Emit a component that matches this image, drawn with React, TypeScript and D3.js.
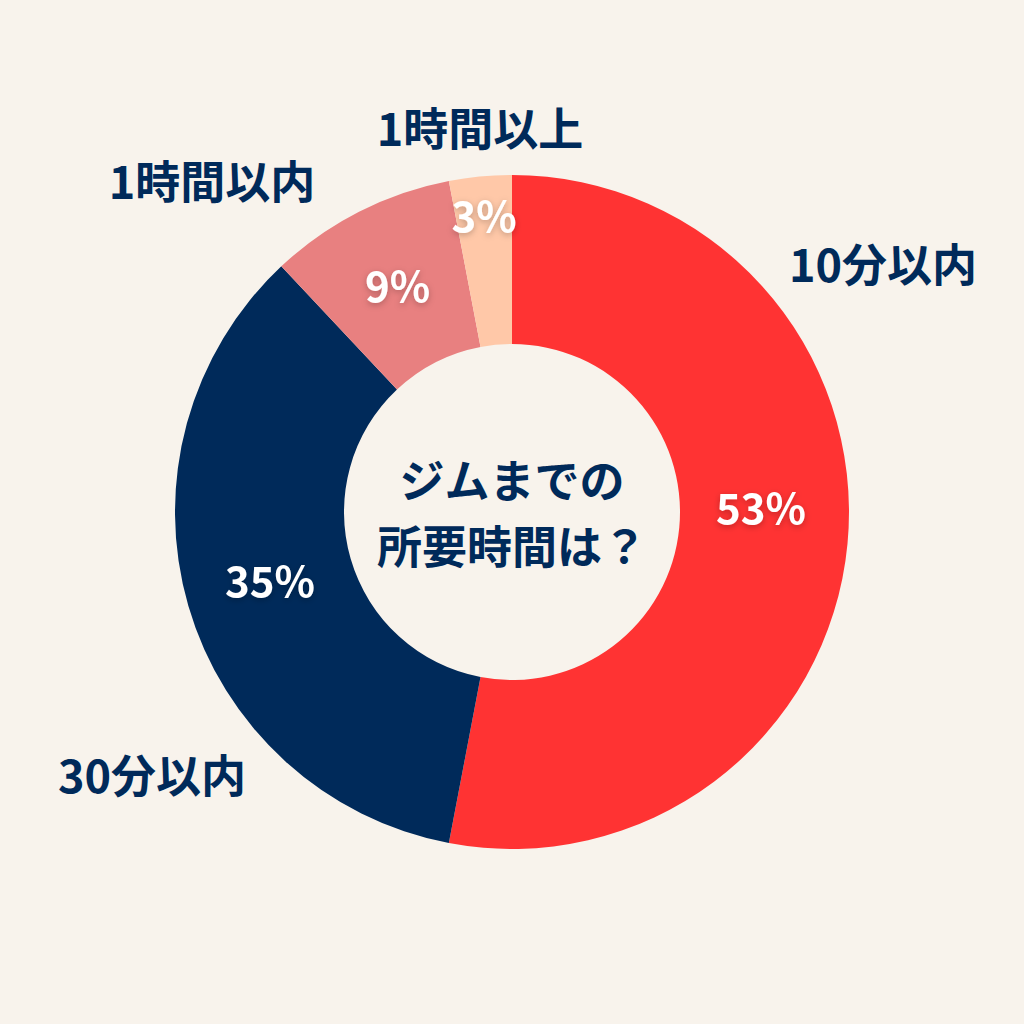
import * as d3 from "d3";

const categories = ["10分以内", "30分以内", "1時間以内", "1時間以上"];
const values = [53, 35, 9, 3];
const colors = ["#FF3333", "#002A5A", "#E88080", "#FFC8A8"];
// outside label positions (x, y)
const labelPos: [number, number][] = [
  [883, 266],
  [152, 777],
  [212, 183],
  [480, 130],
];
// percentage labels: radius from centre and angle nudge (degrees)
const pctRadius = [249, 252, 252, 296];
const pctAngleShift = [-6, 0, 0, 0];
const centerLines = ["ジムまでの", "所要時間は？"];

const W = 1024;
const H = 1024;
const cx = 512;
const cy = 512;
const outerR = 337;
const innerR = 168;

type Slice = { cat: string; value: number; color: string };

export default function App() {
  const data: Slice[] = categories.map((c, i) => ({ cat: c, value: values[i], color: colors[i] }));
  const pie = d3
    .pie<Slice>()
    .sort(null)
    .value((d) => d.value);
  const arcs = pie(data);
  const arc = d3
    .arc<d3.PieArcDatum<Slice>>()
    .innerRadius(innerR)
    .outerRadius(outerR);

  const font = "'Noto Sans CJK JP', 'Noto Sans', sans-serif";

  return (
    <svg
      width={W}
      height={H}
      style={{ position: "absolute", left: 0, top: 0, background: "#F8F3EC" }}
    >
      <defs>
        <filter id="shadow" x="-30%" y="-30%" width="160%" height="160%">
          <feDropShadow dx="0" dy="2" stdDeviation="3" floodColor="#000" floodOpacity="0.25" />
        </filter>
      </defs>
      <rect width={W} height={H} fill="#F8F3EC" />
      <g transform={`translate(${cx},${cy})`}>
        {arcs.map((a, i) => (
          <path key={i} d={arc(a) ?? ""} fill={a.data.color} />
        ))}
        {arcs.map((a, i) => {
          const ang = (a.startAngle + a.endAngle) / 2 + (pctAngleShift[i] * Math.PI) / 180;
          const r = pctRadius[i];
          const x = Math.sin(ang) * r;
          const y = -Math.cos(ang) * r;
          return (
            <text
              key={i}
              x={x}
              y={y}
              dy="0.35em"
              textAnchor="middle"
              fill="#fff"
              fontFamily={font}
              fontWeight={700}
              fontSize={42}
              filter="url(#shadow)"
            >
              {a.data.value}%
            </text>
          );
        })}
      </g>
      {categories.map((c, i) => (
        <text
          key={c}
          x={labelPos[i][0]}
          y={labelPos[i][1]}
          dy="0.35em"
          textAnchor="middle"
          fill="#002A5A"
          fontFamily={font}
          fontWeight={700}
          fontSize={45}
        >
          {c}
        </text>
      ))}
      {centerLines.map((t, i) => (
        <text
          key={t}
          x={cx}
          y={482 + i * 66}
          dy="0.35em"
          textAnchor="middle"
          fill="#002A5A"
          fontFamily={font}
          fontWeight={700}
          fontSize={45}
        >
          {t}
        </text>
      ))}
    </svg>
  );
}
